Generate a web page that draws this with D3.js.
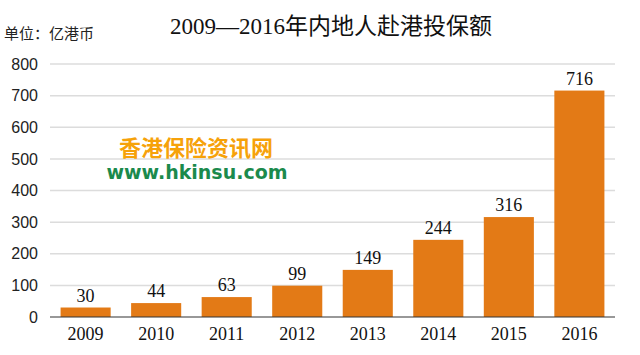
<!DOCTYPE html>
<html>
<head>
<meta charset="utf-8">
<script src="https://cdn.jsdelivr.net/npm/d3@7"></script>
<style>
  body { margin: 0; background: #fff; }
  svg { display: block; }
</style>
</head>
<body>
<svg id="chart" width="640" height="355"></svg>
<script>
// data
const years = ["2009", "2010", "2011", "2012", "2013", "2014", "2015", "2016"];
const amounts = [30, 44, 63, 99, 149, 244, 316, 716];
const yTicks = [0, 100, 200, 300, 400, 500, 600, 700, 800];

const width = 640, height = 355;
const plot = { left: 50, right: 615, top: 64, bottom: 317 };

const svg = d3.select("#chart");
const serif = "'Liberation Serif', 'DejaVu Serif', 'Noto Sans CJK SC', serif";
const sans = "'Liberation Sans', Arial, 'Noto Sans CJK SC', sans-serif";

const x = d3.scaleBand()
    .domain(years)
    .range([plot.left, plot.right])
    .paddingInner(0.29)
    .paddingOuter(0.15);

const y = d3.scaleLinear()
    .domain([0, 800])
    .range([plot.bottom, plot.top]);

// gridlines
svg.append("g")
   .selectAll("line")
   .data(yTicks.filter(d => d > 0))
   .join("line")
   .attr("x1", plot.left)
   .attr("x2", plot.right)
   .attr("y1", d => y(d))
   .attr("y2", d => y(d))
   .style("stroke", "#dcdcdc")
   .style("stroke-width", 1.5);

// y tick labels
const yAxis = d3.axisLeft(y).tickValues(yTicks).tickSize(0).tickPadding(12);
const yG = svg.append("g")
   .attr("transform", `translate(${plot.left},0)`)
   .call(yAxis);
yG.select(".domain").remove();
yG.selectAll("text")
   .style("font-family", sans)
   .style("font-size", "16px")
   .style("fill", "#222");

// watermark
svg.append("text")
   .attr("x", 196)
   .attr("y", 156)
   .attr("text-anchor", "middle")
   .style("font-family", "'Noto Sans CJK SC', sans-serif")
   .style("font-weight", "bold")
   .style("font-size", "22px")
   .style("fill", "#f6a20a")
   .text("香港保险资讯网");
svg.append("text")
   .attr("x", 197)
   .attr("y", 179)
   .attr("text-anchor", "middle")
   .style("font-family", "'DejaVu Sans', sans-serif")
   .style("font-weight", "bold")
   .style("font-size", "19px")
   .style("fill", "#1b8a4c")
   .text("www.hkinsu.com");

// bars
svg.append("g")
   .selectAll("rect")
   .data(amounts)
   .join("rect")
   .attr("x", (d, i) => x(years[i]))
   .attr("y", d => y(d))
   .attr("width", x.bandwidth())
   .attr("height", d => y(0) - y(d))
   .style("fill", "#e37a16");

// value labels
svg.append("g")
   .selectAll("text")
   .data(amounts)
   .join("text")
   .attr("x", (d, i) => x(years[i]) + x.bandwidth() / 2)
   .attr("y", d => y(d) - 6)
   .attr("text-anchor", "middle")
   .style("font-family", serif)
   .style("font-size", "18px")
   .style("fill", "#111")
   .text(d => d);

// baseline
svg.append("line")
   .attr("x1", plot.left)
   .attr("x2", plot.right)
   .attr("y1", y(0))
   .attr("y2", y(0))
   .style("stroke", "#333")
   .style("stroke-width", 1.2);

// x axis labels
const xAxis = d3.axisBottom(x).tickSize(0).tickPadding(10);
const xG = svg.append("g")
   .attr("transform", `translate(0,${plot.bottom})`)
   .call(xAxis);
xG.select(".domain").remove();
xG.selectAll("text")
   .style("font-family", serif)
   .style("font-size", "18px")
   .style("fill", "#111");

// title + unit
svg.append("text")
   .attr("x", 331)
   .attr("y", 34)
   .attr("text-anchor", "middle")
   .style("font-family", serif)
   .style("font-size", "23px")
   .style("fill", "#111")
   .text("2009—2016年内地人赴港投保额");

svg.append("text")
   .attr("x", 4)
   .attr("y", 39)
   .style("font-family", "'Noto Sans CJK SC', sans-serif")
   .style("font-size", "15px")
   .style("fill", "#222")
   .text("单位：亿港币");
</script>
</body>
</html>
